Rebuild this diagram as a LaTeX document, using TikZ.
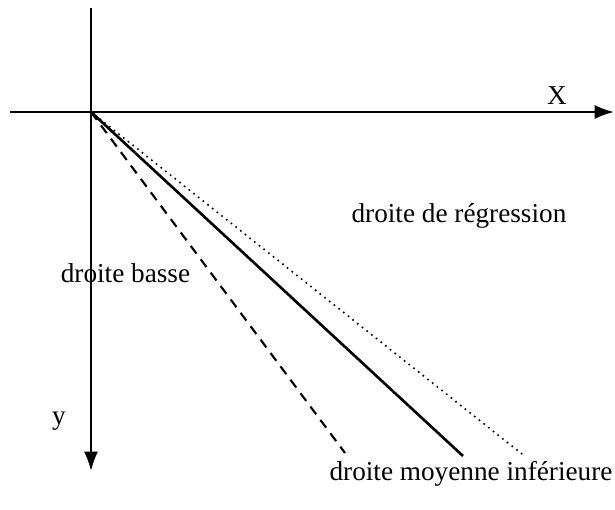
\documentclass[tikz,border=0pt]{standalone}
\usepackage{fontspec}
\setmainfont{Liberation Serif}
\usetikzlibrary{arrows.meta}

\begin{document}
\begin{tikzpicture}[
    axis/.style={line width=1.2pt,-{Latex[length=11pt,width=8pt]}},
    lbl/.style={font=\fontsize{15.5}{18}\selectfont,inner sep=0pt,anchor=base}
]

% Frame
\useasboundingbox (-1.82,-7.94) rectangle (10.48,2.24);

% Points
\coordinate (O) at (0,0);
\coordinate (xl) at (-1.62,0);
\coordinate (xr) at (10.46,0);
\coordinate (yt) at (0,2.08);
\coordinate (yb) at (0,-7.18);
\coordinate (basse) at (5.08,-6.82);
\coordinate (moyenne) at (7.44,-6.88);
\coordinate (regression) at (8.62,-6.84);

% Axes
\draw[axis] (xl) -- (xr);
\draw[axis] (yt) -- (yb);

% Lines
\draw[line width=1.2pt,dash pattern=on 5.5pt off 4pt] (O) -- (basse);
\draw[line width=1.5pt] (O) -- (moyenne);
\draw[line width=1.3pt,line cap=round,dash pattern=on 0pt off 3.4pt] (O) -- (regression);

% Axis labels
\node[lbl] (X) at (9.32,0.16) {X};
\node[lbl] (y) at (-0.64,-6.24) {y};

% Line labels
\node[lbl] (lbasse) at (0.69,-3.4) {droite basse};
\node[lbl] (lreg) at (7.36,-2.2) {droite de régression};
\node[lbl] (lmoy) at (7.6,-7.36) {droite moyenne inférieure};

\end{tikzpicture}
\end{document}
